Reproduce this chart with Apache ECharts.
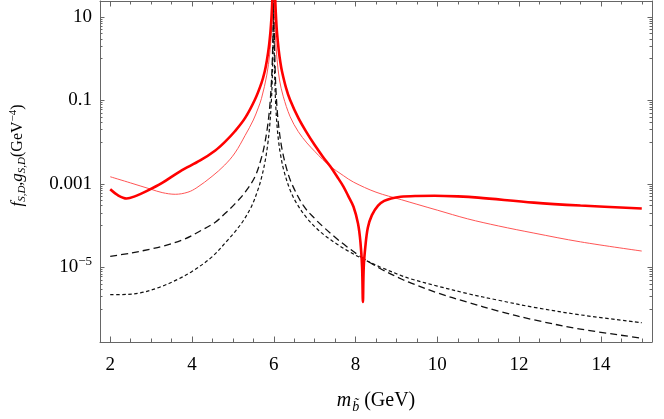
<!DOCTYPE html>
<html>
<head>
<meta charset="utf-8">
<script src="https://cdn.jsdelivr.net/npm/echarts@6/dist/echarts.min.js"></script>
<style>html,body{margin:0;padding:0;background:#fff;}#c{width:664px;height:419px;}</style>
</head>
<body>
<div id="c"></div>
<script>
// ---- data (x in GeV, y in GeV^-4) ----
const thickX = [2.0,2.2,2.4,2.6,2.9,3.27,3.71,4.2,4.57,4.8,5.05,5.3,5.54,5.7,5.78,5.83,5.88,5.92,5.94,5.955,5.965,6.0,6.03,6.04,6.06,6.08,6.12,6.16,6.2,6.3,6.4,6.6,6.81,7.0,7.2,7.38,7.55,7.7,7.82,7.95,8.06,8.12,8.16,8.18,8.2,8.24,8.3,8.4,8.55,8.7,8.87,9.1,9.5,9.93,10.5,11.0,12.36,13.5,15.0];
const thickY = [7.41e-4,5.25e-4,4.47e-4,5.01e-4,6.76e-4,1.05e-3,2.00e-3,3.63e-3,6.31e-3,1.0e-2,1.82e-2,3.80e-2,0.105,0.263,0.501,0.891,1.91,4.57,8.51,15.8,26.9,1000,38.9,20.0,7.94,4.07,1.62,0.832,0.501,0.200,0.102,3.80e-2,1.66e-2,8.51e-3,4.47e-3,2.63e-3,1.48e-3,8.71e-4,5.13e-4,2.82e-4,1.12e-4,3.98e-5,1.0e-5,1.48e-6,1.0e-5,3.16e-5,8.91e-5,1.78e-4,3.02e-4,3.89e-4,4.47e-4,4.90e-4,5.13e-4,5.19e-4,5.01e-4,4.68e-4,3.55e-4,3.02e-4,2.57e-4];

const thinX = [2.0,2.5,3.0,3.27,3.59,3.9,4.12,4.49,4.8,5.05,5.3,5.5,5.62,5.7,5.83,5.9,5.94,5.96,5.97,6.0,6.018,6.025,6.035,6.05,6.08,6.14,6.23,6.4,6.6,6.81,7.0,7.2,7.38,7.7,7.95,8.5,9.12,9.5,10.0,10.74,11.5,12.36,13.5,15.0];
const thinY = [1.48e-3,1.05e-3,7.41e-4,6.17e-4,5.62e-4,6.31e-4,8.13e-4,1.51e-3,2.82e-3,5.50e-3,1.45e-2,3.39e-2,6.61e-2,0.112,0.407,1.29,3.98,9.77,18.6,1000,18.6,9.77,5.01,2.45,0.955,0.309,0.126,4.07e-2,1.78e-2,9.55e-3,6.03e-3,3.80e-3,2.63e-3,1.58e-3,1.10e-3,6.31e-4,4.17e-4,3.24e-4,2.34e-4,1.45e-4,9.77e-5,6.61e-5,4.07e-5,2.45e-5];

const dashX = [2.0,2.5,3.0,3.31,3.8,4.2,4.57,4.8,5.05,5.3,5.54,5.7,5.78,5.85,5.9,5.94,5.96,5.975,5.985,5.992,6.0,6.004,6.008,6.015,6.03,6.05,6.08,6.12,6.2,6.32,6.45,6.73,7.0,7.21,7.5,7.78,8.18,8.6,9.12,9.36,10.0,10.74,11.5,12.36,13.5,15.0];
const dashY = [1.82e-5,2.19e-5,2.75e-5,3.24e-5,4.68e-5,7.41e-5,1.20e-4,1.91e-4,3.31e-4,6.31e-4,1.48e-3,4.27e-3,9.33e-3,2.45e-2,6.76e-2,0.245,0.676,2.19,7.76,37.2,1000,95.5,17.8,3.80,0.708,0.204,6.46e-2,2.40e-2,6.92e-3,2.19e-3,9.55e-4,2.95e-4,1.48e-4,9.33e-5,5.25e-5,3.16e-5,1.66e-5,9.33e-6,5.25e-6,4.17e-6,2.45e-6,1.45e-6,8.91e-7,5.50e-7,3.31e-7,2.0e-7];

const dotX = [2.0,2.4,2.74,3.2,3.67,4.0,4.49,4.89,5.05,5.25,5.46,5.62,5.7,5.78,5.85,5.9,5.94,5.96,5.975,5.985,5.992,6.0,6.004,6.008,6.015,6.03,6.05,6.08,6.12,6.16,6.24,6.4,6.56,6.8,7.05,7.25,7.54,7.8,8.18,8.6,9.12,9.36,10.0,10.74,11.5,12.36,13.5,15.0];
const dotY = [2.21e-6,2.24e-6,2.43e-6,3.31e-6,5.25e-6,7.94e-6,1.78e-5,4.68e-5,7.08e-5,1.29e-4,2.95e-4,7.59e-4,1.41e-3,3.16e-3,8.51e-3,2.45e-2,9.33e-2,0.263,0.891,3.39,17.8,1000,17.8,3.89,0.977,0.214,6.92e-2,2.45e-2,1.0e-2,5.37e-3,2.19e-3,7.08e-4,3.39e-4,1.55e-4,8.51e-5,5.75e-5,3.63e-5,2.51e-5,1.58e-5,1.02e-5,6.31e-6,5.25e-6,3.55e-6,2.34e-6,1.62e-6,1.10e-6,7.24e-7,4.68e-7];

// ---- ticks ----
const xMajorTicks = [2,4,6,8,10,12,14];
const xMinorTicks = [2.5,3,3.5,4.5,5,5.5,6.5,7,7.5,8.5,9,9.5,10.5,11,11.5,12.5,13,13.5,14.5,15];
const yMajorTicks = [1e-5, 1e-3, 0.1, 10];
const yTickLabels = ['{b|10}{sup|\u22125}', '0.001', '0.1', '10'];
const yMinorMult = [1,2,3,4,5,6,7,8,9];

const X_MIN = 1.75, X_MAX = 15.25;
const Y_MIN = 1.62e-7, Y_MAX = 24.1;

const yMinorTicks = [];
yMajorTicks.forEach(m => yMinorMult.forEach(k => yMinorTicks.push(k * m / 10)));

const FONT = 'Liberation Serif';
const AX = '#666';
const TICKFS = 19;

function pairs(xs, ys) { return xs.map((x, i) => [x, ys[i]]); }

function yLabel(v) {
  for (let i = 0; i < yMajorTicks.length; i++) {
    if (Math.abs(Math.log10(v) - Math.log10(yMajorTicks[i])) < 1e-6) return yTickLabels[i];
  }
  return '';
}

const xBase = {type: 'value', min: X_MIN, max: X_MAX, splitLine: {show: false}};
const yBase = {type: 'log', logBase: 10, min: Y_MIN, max: Y_MAX, splitLine: {show: false}};

const chart = echarts.init(document.getElementById('c'), null, {renderer: 'canvas'});
chart.setOption({
  animation: false,
  backgroundColor: '#fff',
  grid: {left: 98, right: 12, top: 1, bottom: 76, containLabel: false},
  xAxis: [
    Object.assign({}, xBase, {
      position: 'bottom',
      axisLine: {show: true, lineStyle: {color: AX, width: 1}},
      axisTick: {show: true, inside: true, length: 5.5, lineStyle: {color: AX}, customValues: xMajorTicks},
      axisLabel: {show: true, customValues: xMajorTicks, margin: 14, color: '#000', fontFamily: FONT, fontSize: TICKFS},
      name: '{i|m}{sub|b\u0303}{n| (GeV)}',
      nameLocation: 'middle', nameGap: 46,
      nameTextStyle: {color: '#000', fontFamily: FONT, fontSize: 20,
        rich: {
          i: {fontFamily: FONT, fontStyle: 'italic', fontSize: 20, color: '#000'},
          sub: {fontFamily: FONT, fontStyle: 'italic', fontSize: 14, color: '#000', padding: [12, 0, 0, 1]},
          n: {fontFamily: FONT, fontSize: 20, color: '#000'}
        }}
    }),
    Object.assign({}, xBase, {
      position: 'bottom',
      axisLine: {show: false},
      axisTick: {show: true, inside: true, length: 3.5, lineStyle: {color: AX}, customValues: xMinorTicks},
      axisLabel: {show: false}
    }),
    Object.assign({}, xBase, {
      position: 'top',
      axisLine: {show: true, lineStyle: {color: AX, width: 1}},
      axisTick: {show: true, inside: true, length: 5.5, lineStyle: {color: AX}, customValues: xMajorTicks},
      axisLabel: {show: false}
    }),
    Object.assign({}, xBase, {
      position: 'top',
      axisLine: {show: false},
      axisTick: {show: true, inside: true, length: 3.5, lineStyle: {color: AX}, customValues: xMinorTicks},
      axisLabel: {show: false}
    })
  ],
  yAxis: [
    Object.assign({}, yBase, {
      position: 'left',
      axisLine: {show: true, lineStyle: {color: AX, width: 1}},
      axisTick: {show: true, inside: true, length: 4.5, lineStyle: {color: AX}, customValues: yMajorTicks},
      axisLabel: {show: true, customValues: yMajorTicks, margin: 8, color: '#000', fontFamily: FONT, fontSize: TICKFS,
        formatter: yLabel,
        rich: {
          b: {fontFamily: FONT, fontSize: TICKFS, color: '#000'},
          sup: {fontFamily: FONT, fontSize: 13, color: '#000', padding: [0, 0, 11, 0]}
        }},
      name: '{i|f}{sub|S,D}{n|,}{i|g}{sub|S,D}{n|(GeV}{sup|\u22124}{n|)}',
      nameLocation: 'middle', nameGap: 72, nameRotate: 90,
      nameTextStyle: {color: '#000', fontFamily: FONT, fontSize: 16, padding: [0, 0, 0, 32],
        rich: {
          i: {fontFamily: FONT, fontStyle: 'italic', fontSize: 17, color: '#000'},
          sub: {fontFamily: FONT, fontStyle: 'italic', fontSize: 11, color: '#000', padding: [9, 0, 0, 0]},
          sup: {fontFamily: FONT, fontSize: 11, color: '#000', padding: [0, 0, 9, 0]},
          n: {fontFamily: FONT, fontSize: 16, color: '#000'}
        }}
    }),
    Object.assign({}, yBase, {
      position: 'left',
      axisLine: {show: false},
      axisTick: {show: true, inside: true, length: 2.5, lineStyle: {color: AX}, customValues: yMinorTicks},
      axisLabel: {show: false}
    }),
    Object.assign({}, yBase, {
      position: 'right',
      axisLine: {show: true, lineStyle: {color: AX, width: 1}},
      axisTick: {show: true, inside: true, length: 4.5, lineStyle: {color: AX}, customValues: yMajorTicks},
      axisLabel: {show: false}
    }),
    Object.assign({}, yBase, {
      position: 'right',
      axisLine: {show: false},
      axisTick: {show: true, inside: true, length: 2.5, lineStyle: {color: AX}, customValues: yMinorTicks},
      axisLabel: {show: false}
    })
  ],
  series: [
    {type: 'line', name: 'dashed', data: pairs(dashX, dashY), showSymbol: false, smooth: 0.35, clip: true,
     lineStyle: {color: '#111', width: 1.3, type: [7, 4]}},
    {type: 'line', name: 'dotted', data: pairs(dotX, dotY), showSymbol: false, smooth: 0.35, clip: true,
     lineStyle: {color: '#111', width: 1.2, type: [3.5, 2.5]}},
    {type: 'line', name: 'thin', data: pairs(thinX, thinY), showSymbol: false, smooth: 0.35, clip: true,
     lineStyle: {color: '#ff5555', width: 1}},
    {type: 'line', name: 'thick', data: pairs(thickX, thickY), showSymbol: false, smooth: 0.35, clip: true,
     lineStyle: {color: '#ff0000', width: 2.6}}
  ]
});
</script>
</body>
</html>
